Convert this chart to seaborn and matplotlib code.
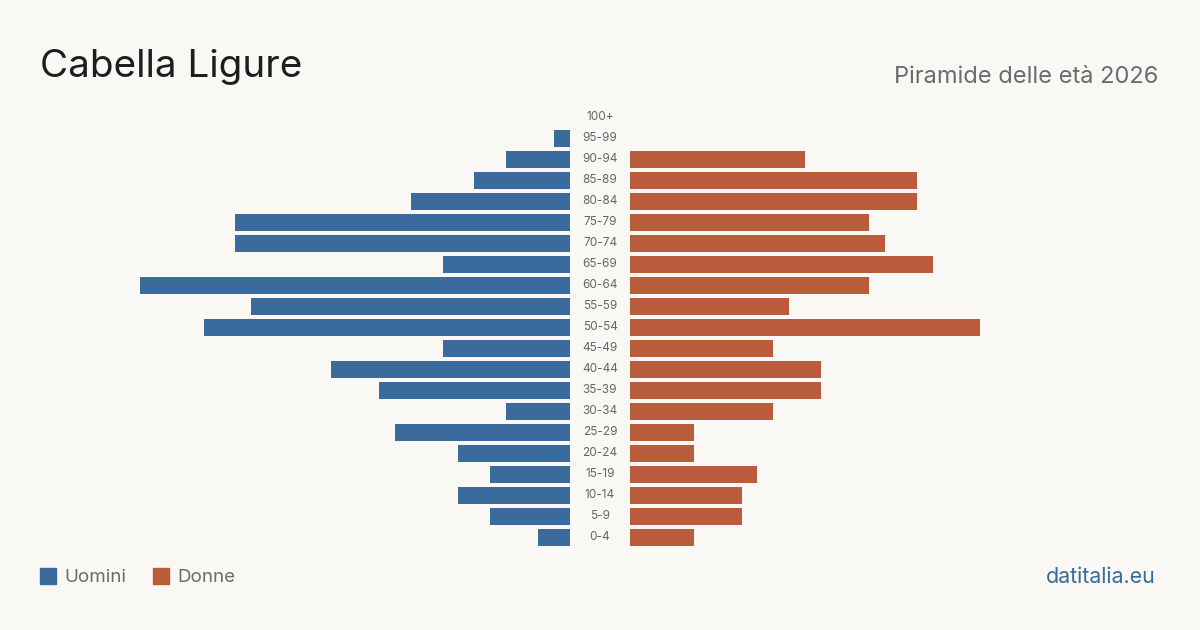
import pandas as pd
import matplotlib.pyplot as plt
import seaborn as sns

# %%

classi = ['100+', '95-99', '90-94', '85-89', '80-84', '75-79', '70-74', '65-69',
          '60-64', '55-59', '50-54', '45-49', '40-44', '35-39', '30-34', '25-29',
          '20-24', '15-19', '10-14', '5-9', '0-4']
uomini = [0, 1, 4, 6, 10, 21, 21, 8, 27, 20, 23, 8, 15, 12, 4, 11, 7, 5, 7, 5, 2]
donne = [0, 0, 11, 18, 18, 15, 16, 19, 15, 10, 22, 9, 12, 12, 9, 4, 4, 8, 7, 7, 4]

blu = '#3a6b9c'
rosso = '#b95c3c'
sfondo = '#f9f8f4'

df = pd.DataFrame({'classe': classi, 'uomini': uomini, 'donne': donne})

# %%

sns.set_style('white')
plt.rcParams['font.family'] = ['Inter', 'DejaVu Sans']

fig = plt.figure(figsize=(12, 6.3), dpi=100, facecolor=sfondo)
ax_u = fig.add_axes([40 / 1200, 0.1305, 530 / 1200, 0.7])
ax_d = fig.add_axes([630 / 1200, 0.1305, 530 / 1200, 0.7])

sns.barplot(data=df, x='uomini', y='classe', color=blu, saturation=1, width=0.8,
            linewidth=0, ax=ax_u)
sns.barplot(data=df, x='donne', y='classe', color=rosso, saturation=1, width=0.8,
            linewidth=0, ax=ax_d)

xmax = 530 / 15.93
ax_u.set_xlim(xmax, 0)
ax_d.set_xlim(0, xmax)

for ax in (ax_u, ax_d):
    ax.set_facecolor(sfondo)
    ax.set_ylim(len(classi) - 0.5, -0.5)
    ax.set_xlabel('')
    ax.set_ylabel('')
    ax.set_xticks([])
    ax.set_yticks([])
    for s in ax.spines.values():
        s.set_visible(False)

for i, c in enumerate(classi):
    ax_d.text(-30 / 15.93, i, c, ha='center', va='center', fontsize=8.5, color='#666666')

# titoli
fig.text(40 / 1200, 1 - 67 / 630, 'Cabella Ligure', fontsize=27.8, color='#1e1e1e',
         ha='left', va='center')
fig.text(1158 / 1200, 1 - 77 / 630, 'Piramide delle età 2026', fontsize=17,
         color='#6b6b6b', ha='right', va='center')

# legenda
fig.patches.append(plt.Rectangle((40 / 1200, 1 - 584 / 630), 16 / 1200, 16 / 630,
                                 transform=fig.transFigure, color=blu))
fig.text(64 / 1200, 1 - 577 / 630, 'Uomini', fontsize=13.5, color='#6b6b6b', va='center')
fig.patches.append(plt.Rectangle((153 / 1200, 1 - 584 / 630), 16 / 1200, 16 / 630,
                                 transform=fig.transFigure, color=rosso))
fig.text(177 / 1200, 1 - 577 / 630, 'Donne', fontsize=13.5, color='#6b6b6b', va='center')

fig.text(1156 / 1200, 1 - 577 / 630, 'datitalia.eu', fontsize=15.4, color=blu,
         ha='right', va='center')

plt.savefig('out.png', dpi=100, facecolor=sfondo)
